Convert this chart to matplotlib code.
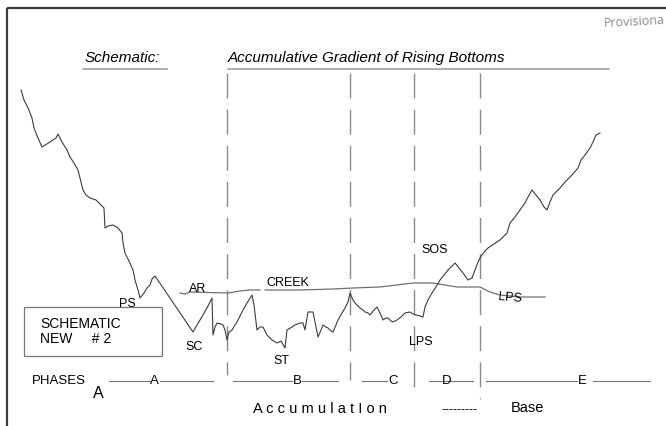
import matplotlib
matplotlib.use('Agg')

import matplotlib.pyplot as plt
import matplotlib.patches as mpatches

plt.rcParams['font.family'] = ['Liberation Sans', 'DejaVu Sans']

# ---- price path of the schematic (chart units: x = time, y = level, top-down)
price_x = [21, 24, 28, 32, 34, 38, 42, 50, 56, 58, 62, 67, 70, 74, 78, 80, 83, 86,
           90, 96, 100, 104, 105, 108, 113, 118, 122, 123, 125, 129, 133, 135, 138,
           140, 144, 147, 150, 152, 155, 174, 193, 197, 203, 208, 212, 213, 215, 217,
           221, 223, 225, 227, 229, 232, 235, 237, 242, 247, 252, 254, 257, 260, 263,
           267, 272, 277, 281, 285, 287, 292, 295, 300, 303, 305, 308, 313, 315, 318,
           321, 323, 326, 328, 331, 333, 336, 338, 342, 345, 348, 350, 353, 355, 358,
           360, 363, 365, 368, 370, 374, 377, 380, 383, 386, 388, 391, 393, 397, 401,
           405, 410, 413, 416, 420, 423, 425, 428, 432, 436, 440, 444, 448, 452, 455,
           459, 463, 468, 472, 475, 478, 480, 484, 488, 494, 500, 504, 507, 510, 515,
           520, 525, 528, 532, 536, 540, 544, 547, 550, 553, 556, 560, 566, 572, 578,
           581, 585, 590, 593, 596, 600]
price_y = [90, 100, 108, 118, 128, 138, 147, 142, 138, 134, 142, 150, 157, 163, 170,
           178, 190, 195, 198, 200, 204, 208, 228, 226, 225, 228, 233, 243, 253, 261,
           270, 280, 290, 298, 293, 288, 285, 279, 276, 304, 332, 325, 315, 306, 298,
           335, 327, 323, 324, 325, 330, 340, 332, 330, 325, 322, 312, 303, 295, 305,
           330, 327, 327, 335, 340, 343, 341, 348, 330, 327, 325, 323, 323, 330, 312,
           312, 322, 337, 330, 325, 327, 328, 331, 332, 325, 320, 313, 308, 302, 293,
           300, 303, 306, 308, 310, 312, 313, 315, 310, 307, 313, 320, 318, 318, 321,
           322, 320, 317, 313, 312, 314, 315, 316, 317, 307, 300, 293, 287, 280, 275,
           270, 266, 263, 268, 273, 280, 278, 270, 262, 258, 252, 248, 244, 240, 236,
           233, 223, 217, 210, 203, 197, 190, 195, 200, 207, 210, 202, 195, 192, 188,
           181, 175, 168, 160, 155, 148, 142, 135, 133]

# ---- AR / creek line
creek_x = [180, 185, 190, 228, 240, 250, 260, None, 265, 300, 333, 353, 380, 405,
           413, 433, 457, 480, 490, 500, 520, 545]
creek_y = [293, 294, 292, 293, 291, 290, 290, None, 290, 290, 289, 288, 287, 284,
           283, 283, 287, 287, 292, 295, 297, 297]

# ---- event labels
events = ['PS', 'AR', 'CREEK', 'SC', 'ST', 'SOS', 'LPS', 'LPS']
event_x = [127, 198, 288, 194, 281, 435, 421, 510]
event_y = [304, 289, 283, 347, 361, 250, 342, 298]
event_rot = [0, 0, 0, 0, 0, 0, 0, -5]

# ---- phase dividers (dashed)
divider_x = [227, 350, 414, 480]
divider_bottom = [375, 380, 395, 399]
divider_top = 73

# ---- phase row: label, label x, segments left/right of the label
phases = ['A', 'B', 'C', 'D', 'E']
phase_lx = [154, 297, 393, 447, 582]
phase_segs = [[(109, 150), (160, 213)],
              [(233, 292), (302, 338)],
              [(362, 387)],
              [(429, 473)],
              [(486, 577), (593, 650)]]
phase_y = 381

fig = plt.figure(figsize=(6.66, 4.26), dpi=100)
fig.patch.set_facecolor('white')
ax = fig.add_axes([0, 0, 1, 1])
ax.set_xlim(0, 666)
ax.set_ylim(426, 0)
ax.set_axis_off()

# outer frame (only top and left edges fall inside the picture)
ax.add_patch(mpatches.Rectangle((7, 8), 700, 450, fill=False,
                                edgecolor='#3a3a3a', linewidth=1.6))

ax.text(665, 22, 'Provisiona', color='#8a8a8a', fontsize=9,
        family=['Open Sans', 'DejaVu Sans'], rotation=3,
        ha='right', va='center')

# titles
ax.text(85, 58, 'Schematic:', fontsize=11, style='italic', va='center')
ax.plot([83, 167], [69, 69], color='#999999', lw=1.1)
ax.text(228, 58, 'Accumulative Gradient of Rising Bottoms', fontsize=11,
        style='italic', va='center')
ax.plot([228, 609], [69, 69], color='#999999', lw=1.1)

# dashed phase dividers
for dx, db in zip(divider_x, divider_bottom):
    ax.plot([dx, dx], [divider_top, db], color='#8a8a8a', lw=1.0,
            dashes=(18, 8))

# creek and price
ax.plot(creek_x, creek_y, color='#707070', lw=0.9)
ax.plot(price_x, price_y, color='#3c3c3c', lw=0.8)

for name, ex, ey, rot in zip(events, event_x, event_y, event_rot):
    ax.text(ex, ey, name, fontsize=9, ha='center', va='center', rotation=rot)

# schematic box
ax.add_patch(mpatches.Rectangle((24, 307), 138, 49, fill=False,
                                edgecolor='#777777', linewidth=0.9))
ax.text(40, 324, 'SCHEMATIC', fontsize=10, va='center')
ax.text(40, 339, 'NEW     # 2', fontsize=10, va='center')

# phases row
ax.text(32, 381, 'PHASES', fontsize=9.5, va='center')
ax.text(98, 394, 'A', fontsize=11.5, ha='center', va='center')
for name, lx, segs in zip(phases, phase_lx, phase_segs):
    for x0, x1 in segs:
        ax.plot([x0, x1], [phase_y, phase_y], color='#777777', lw=0.8)
    ax.text(lx, phase_y, name, fontsize=9.5, ha='center', va='center')

ax.text(253, 409, 'A c c u m u l a t I o n', fontsize=10.5, va='center')
ax.text(442, 410, '---------', fontsize=9, va='center')
ax.text(511, 408, 'Base', fontsize=10.5, va='center')

fig.savefig('out.png', dpi=100)
